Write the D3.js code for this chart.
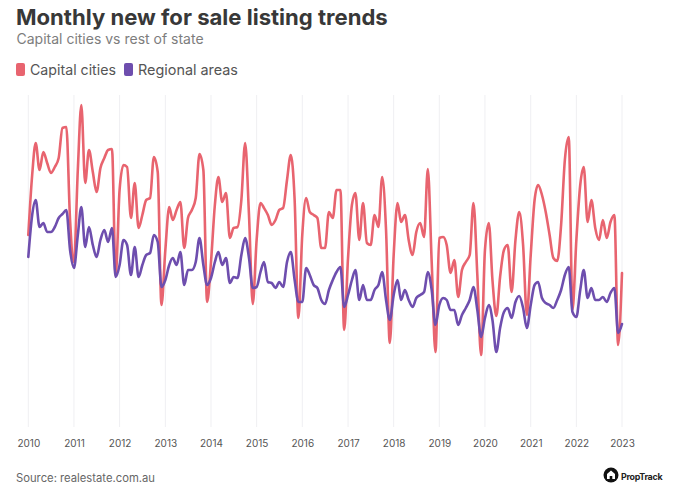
<!DOCTYPE html>
<html><head><meta charset="utf-8">
<script src="https://cdn.jsdelivr.net/npm/d3@7"></script>
<style>
body{margin:0;background:#fff;}
svg{display:block;font-family:Inter,'Open Sans',sans-serif;}
</style>
</head><body>
<svg id="chart" width="677" height="501"></svg>
<script>
const title = "Monthly new for sale listing trends";
const subtitle = "Capital cities vs rest of state";
const seriesNames = ["Capital cities", "Regional areas"];
const seriesColors = ["#e8646f", "#6e4eae"];
const source = "Source: realestate.com.au";
const brand = "PropTrack";
const firstMonth = "2010-01";
const yearTicks = [2010,2011,2012,2013,2014,2015,2016,2017,2018,2019,2020,2021,2022,2023];

// monthly new listings index, Jan 2010 – Jan 2023
const capital = [
38.0,50.0,56.4,51.0,54.6,52.4,50.4,51.6,53.4,59.4,59.6,41.0,
32.6,51.0,64.0,48.4,55.0,50.6,46.6,51.4,53.4,55.0,55.2,30.0,
47.0,52.0,51.6,41.4,48.4,39.4,42.0,45.0,45.4,53.6,50.6,24.0,
35.0,43.6,41.0,43.0,44.6,35.4,41.4,43.0,45.4,54.2,51.0,24.6,
32.6,44.0,49.6,44.6,46.4,37.4,39.4,39.6,45.0,56.4,42.0,24.2,
37.0,44.4,43.4,42.0,40.0,41.0,43.0,43.4,49.0,54.0,45.0,21.4,
38.0,45.4,42.6,42.0,41.4,35.4,35.4,42.6,41.4,47.0,47.0,19.0,
33.4,44.0,46.4,37.0,44.4,36.4,36.0,42.0,39.6,49.6,39.0,16.4,
34.0,44.4,40.6,42.0,37.0,34.0,38.6,40.4,37.6,51.2,32.6,14.6,
37.4,37.6,36.0,30.4,33.0,25.6,31.0,32.6,34.0,44.4,30.0,14.0,
35.0,40.4,29.0,21.8,29.6,35.0,36.0,26.6,37.0,42.6,36.0,22.0,
34.0,45.0,48.0,46.0,42.6,38.0,33.4,32.8,40.0,53.0,57.6,23.0,
37.0,48.0,51.6,40.6,45.0,39.4,37.0,41.0,37.4,40.6,42.0,16.0,
30.4
];
const regional = [
33.6,42.0,45.0,39.6,40.4,38.6,38.6,39.6,41.4,42.2,43.0,35.0,
31.4,38.0,43.6,35.6,39.6,36.0,33.6,37.0,39.0,36.6,39.4,29.6,
32.0,37.0,36.0,30.0,35.6,29.6,32.0,34.0,34.4,38.0,36.6,27.6,
29.0,32.0,33.4,32.0,34.6,28.0,31.0,31.0,32.6,37.4,32.0,28.0,
29.4,32.6,34.6,32.0,33.4,28.4,29.6,29.4,34.0,37.4,33.4,27.4,
27.6,30.6,32.6,28.6,28.4,27.4,28.6,27.6,32.6,34.6,29.0,24.6,
24.6,31.4,30.0,28.0,27.4,25.0,24.2,27.0,29.0,30.6,31.6,23.6,
26.0,29.0,31.0,25.0,28.0,25.0,25.0,27.0,28.0,30.6,25.0,21.0,
26.0,29.0,25.0,27.0,25.0,23.6,25.4,26.0,26.6,30.6,27.0,20.0,
24.0,25.4,25.0,23.0,23.0,20.0,22.0,23.4,25.0,27.6,23.0,17.6,
21.4,24.0,21.0,14.6,19.4,22.6,23.4,21.4,24.6,25.8,23.4,19.4,
24.0,28.0,28.6,25.4,24.4,24.0,23.4,25.0,27.0,30.0,31.6,22.6,
21.6,27.0,31.0,25.4,27.4,25.0,25.0,25.6,24.6,26.4,27.4,18.4,
20.2
];

const svg = d3.select("#chart");
const plot = {left: 28.3, right: 622, top: 95, bottom: 427};

const parseMonth = d3.timeParse("%Y-%m");
const start = parseMonth(firstMonth);
const dates = capital.map((_, i) => d3.timeMonth.offset(start, i));

const x = d3.scaleTime()
  .domain([new Date(yearTicks[0], 0, 1), new Date(yearTicks[yearTicks.length-1], 0, 1)])
  .range([plot.left, plot.right]);
const y = d3.scaleLinear().domain([0, 66]).range([425, 95]);

function fit(sel, target){
  const w = sel.node().getComputedTextLength();
  const fs = parseFloat(sel.attr("font-size"));
  sel.attr("font-size", (fs * target / w).toFixed(2));
}

// title block
const t = svg.append("text").attr("x", 16).attr("y", 25).attr("font-size", 20)
  .attr("font-weight", 700).attr("fill", "#383838").text(title);
fit(t, 372);
const st = svg.append("text").attr("x", 16.5).attr("y", 43.5).attr("font-size", 14)
  .attr("fill", "#7d7d7d").text(subtitle);
fit(st, 187);

// legend
const legendX = [16, 124];
const legendW = [86, 100];
seriesNames.forEach((name, k) => {
  svg.append("rect").attr("x", legendX[k]).attr("y", 63).attr("width", 9).attr("height", 13)
    .attr("rx", 2).attr("fill", seriesColors[k]);
  const lt = svg.append("text").attr("x", legendX[k] + 14).attr("y", 74.5).attr("font-size", 14)
    .attr("fill", "#555").text(name);
  fit(lt, legendW[k]);
});

// grid
const years = yearTicks.map(yr => new Date(yr, 0, 1));
svg.append("g").selectAll("line").data(years).join("line")
  .attr("x1", d => x(d)).attr("x2", d => x(d))
  .attr("y1", plot.top).attr("y2", plot.bottom)
  .attr("stroke", "#efeff2").attr("stroke-width", 1);

// axis
const ax = svg.append("g").attr("transform", `translate(0,${plot.bottom})`)
  .call(d3.axisBottom(x).tickValues(years).tickFormat(d3.timeFormat("%Y")).tickSize(0).tickPadding(13));
ax.select(".domain").remove();
ax.selectAll("text").attr("font-size", 10).attr("fill", "#555").attr("font-family", "Inter,'Open Sans',sans-serif");

// lines
const line = d3.line().x((d, i) => x(dates[i])).y(d => y(d)).curve(d3.curveMonotoneX);
[capital, regional].forEach((vals, k) => {
  svg.append("path").datum(vals).attr("d", line).attr("fill", "none")
    .attr("stroke", seriesColors[k]).attr("stroke-width", 2.6)
    .attr("stroke-linejoin", "round").attr("stroke-linecap", "round");
});

// footer
const src = svg.append("text").attr("x", 16).attr("y", 482).attr("font-size", 12)
  .attr("fill", "#666").text(source);
fit(src, 139);

const logo = svg.append("g").attr("transform", "translate(611,475)");
logo.append("circle").attr("r", 7.5).attr("fill", "#111");
logo.append("path").attr("d", "M0,-4.5 L4,-1 L4,4 L-4,4 L-4,-1 Z").attr("fill", "#fff");
logo.append("rect").attr("x", -1.3).attr("y", 1).attr("width", 2.6).attr("height", 3).attr("fill", "#111");
const bt = svg.append("text").attr("x", 621).attr("y", 480).attr("font-size", 12)
  .attr("font-weight", 700).attr("fill", "#222").attr("letter-spacing", -0.3).text(brand);
fit(bt, 42);
</script>
</body></html>
